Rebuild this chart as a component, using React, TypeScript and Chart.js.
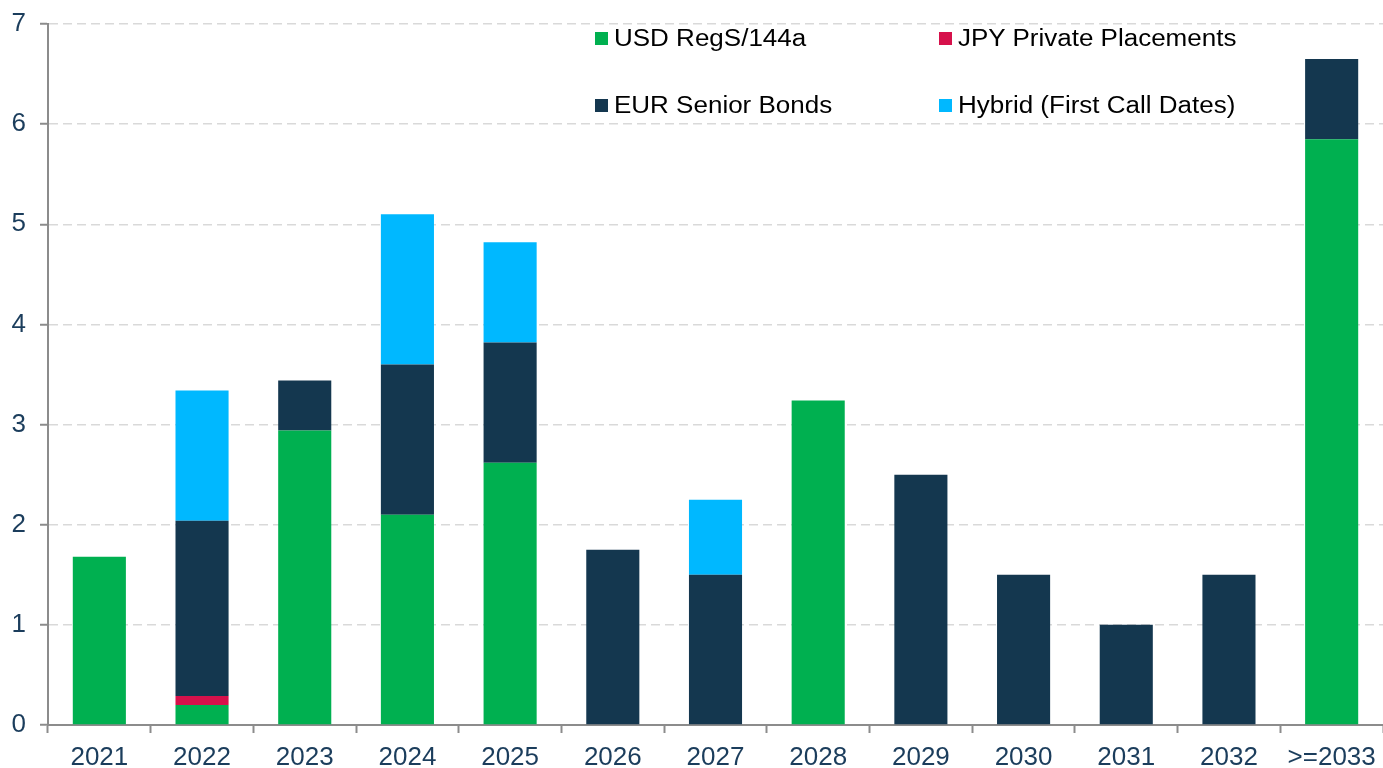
import React, { useEffect, useRef } from "react";
import { Chart, registerables } from "chart.js";

Chart.register(...registerables);

const categories = ["2021", "2022", "2023", "2024", "2025", "2026", "2027", "2028", "2029", "2030", "2031", "2032", ">=2033"];
const usdRegS = [1.68, 0.2, 2.94, 2.1, 2.62, 0, 0, 3.24, 0, 0, 0, 0, 5.85];
const jpyPrivate = [0, 0.09, 0, 0, 0, 0, 0, 0, 0, 0, 0, 0, 0];
const eurSenior = [0, 1.75, 0.5, 1.5, 1.2, 1.75, 1.5, 0, 2.5, 1.5, 1.0, 1.5, 0.8];
const hybrid = [0, 1.3, 0, 1.5, 1.0, 0, 0.75, 0, 0, 0, 0, 0, 0];
const yTicks = [0, 1, 2, 3, 4, 5, 6, 7];

const seriesNames = ["USD RegS/144a", "JPY Private Placements", "EUR Senior Bonds", "Hybrid (First Call Dates)"];
const seriesColors = ["#00B050", "#D6114B", "#14374F", "#00B8FF"];

const FONT = "'Liberation Sans', Arial, sans-serif";
const TICK_COLOR = "#1B3D5C";
const AXIS_COLOR = "#8C8C8C";

export default function App() {
  const canvasRef = useRef<HTMLCanvasElement | null>(null);

  useEffect(() => {
    const canvas = canvasRef.current;
    if (!canvas) return;
    const values = [usdRegS, jpyPrivate, eurSenior, hybrid];
    const chart = new Chart(canvas, {
      type: "bar",
      data: {
        labels: categories,
        datasets: values.map((v, i) => ({
          label: seriesNames[i],
          data: v,
          backgroundColor: seriesColors[i],
          borderWidth: 0,
          categoryPercentage: 1,
          barPercentage: 0.517,
        })),
      },
      options: {
        animation: false,
        responsive: false,
        maintainAspectRatio: false,
        layout: { padding: { top: 24, left: 0, right: 0, bottom: 0 } },
        plugins: {
          legend: { display: false },
          tooltip: { enabled: false },
        },
        scales: {
          x: {
            stacked: true,
            offset: true,
            grid: {
              display: true,
              offset: true,
              drawOnChartArea: false,
              drawTicks: true,
              tickLength: 8,
              tickColor: AXIS_COLOR,
              tickWidth: 2,
            },
            border: { display: true, color: AXIS_COLOR, width: 2 },
            ticks: {
              color: TICK_COLOR,
              font: { family: FONT, size: 26 },
              padding: 9,
              maxRotation: 0,
              autoSkip: false,
            },
            afterFit: (scale: any) => {
              scale.height = 43;
              scale.paddingLeft = 0;
              scale.paddingRight = 0;
            },
          },
          y: {
            stacked: true,
            min: 0,
            max: 7,
            afterBuildTicks: (scale: any) => {
              scale.ticks = yTicks.map((v) => ({ value: v }));
            },
            grid: {
              color: "#D9D9D9",
              lineWidth: 1.5,
              drawTicks: true,
              tickLength: 8,
              tickColor: AXIS_COLOR,
              tickWidth: 2,
              tickBorderDash: [],
            },
            border: { display: true, color: AXIS_COLOR, width: 2, dash: [9, 5] },
            ticks: {
              color: TICK_COLOR,
              font: { family: FONT, size: 26 },
              padding: 14,
            },
            afterFit: (scale: any) => {
              scale.width = 48;
              scale.paddingTop = 0;
              scale.paddingBottom = 0;
            },
          },
        },
      },
    });
    return () => chart.destroy();
  }, []);

  const legendItems = [
    { i: 0, left: 595, top: 38 },
    { i: 1, left: 939, top: 38 },
    { i: 2, left: 595, top: 105 },
    { i: 3, left: 939, top: 105 },
  ];

  return (
    <div style={{ position: "fixed", left: 0, top: 0, width: 1383, height: 768, background: "#fff" }}>
      <canvas ref={canvasRef} width={1383} height={768} style={{ display: "block", width: 1383, height: 768 }} />
      {legendItems.map(({ i, left, top }) => (
        <div
          key={i}
          style={{
            position: "absolute",
            left,
            top: top - 16,
            height: 32,
            display: "flex",
            alignItems: "center",
            fontFamily: FONT,
            fontSize: 26,
            lineHeight: "32px",
            color: "#000",
            whiteSpace: "nowrap",
          }}
        >
          <span style={{ display: "inline-block", width: 13, height: 13, background: seriesColors[i], marginRight: 6 }} />
          <span style={{ display: "inline-block", transform: "scaleY(0.93)" }}>{seriesNames[i]}</span>
        </div>
      ))}
    </div>
  );
}
